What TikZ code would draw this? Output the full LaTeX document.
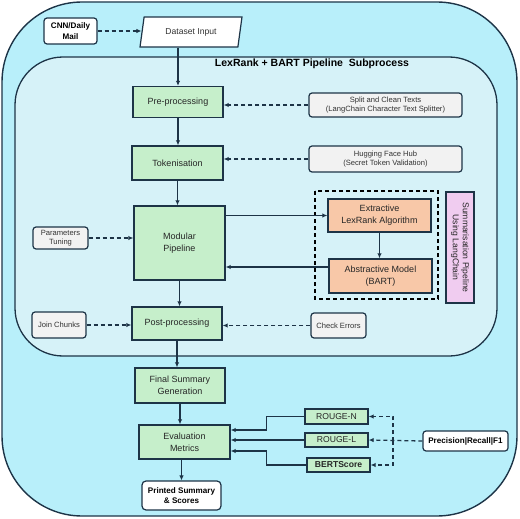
\documentclass[tikz,border=0pt]{standalone}
\usepackage{fontspec}
\setmainfont{Liberation Sans}
\usetikzlibrary{shapes.geometric,arrows.meta}
\definecolor{outerbg}{HTML}{B8EFFA}
\definecolor{innerbg}{HTML}{D6F2F8}
\definecolor{edgecol}{HTML}{1D3447}
\definecolor{stagegreen}{HTML}{C6EFCB}
\definecolor{peach}{HTML}{F8C8A8}
\definecolor{lilac}{HTML}{F0CCF0}
\definecolor{greybox}{HTML}{F2F2F2}
\begin{document}
\begin{tikzpicture}%
	[x=1pt, y=-1pt,
	stage/.style={draw=edgecol, line width=1.4pt, fill=stagegreen, inner sep=1pt, align=center, text=black!85, font=\fontsize{9}{12}\selectfont},
	model/.style={stage, fill=peach},
	metric/.style={stage, font=\fontsize{8.6}{9}\selectfont},
	note/.style={draw=edgecol, line width=1.2pt, fill=greybox, rounded corners=3pt, inner sep=1pt, align=center, text=black!80, font=\fontsize{7.6}{9.5}\selectfont},
	endbox/.style={note, fill=white, text=black, font=\bfseries\fontsize{8.1}{10.5}\selectfont},
	arr/.style={draw=edgecol, line width=1.3pt, -{Latex[length=5pt,width=4.5pt]}},
	dasharr/.style={arr, dash pattern=on 4pt off 3pt}]
\useasboundingbox (0,0) rectangle (520,519);
%%
%% Drawing the containers
%%
\draw[draw=edgecol, line width=1.4pt, fill=outerbg, rounded corners=80pt] (2,2) rectangle (517,516);
\draw[draw=edgecol, line width=1.3pt, fill=innerbg, rounded corners=48pt] (15,57) rectangle (497,356);
\node[font=\bfseries\fontsize{10.5}{13}\selectfont] (title) at (312,63.5) {LexRank + BART Pipeline\ \ Subprocess};
\draw[draw=black, line width=1.1pt, dash pattern=on 4pt off 3pt] (315,191) rectangle (438,299);
%%
%% Drawing the nodes
%%
\node[endbox, minimum width=53pt, minimum height=26pt] (cnn) at (70.5,31) {CNN/Daily\\Mail};
\node[draw=edgecol, line width=1.2pt, fill=white, trapezium, trapezium left angle=80, trapezium right angle=100, trapezium stretches=true, minimum width=102pt, minimum height=30pt, font=\fontsize{8.6}{10}\selectfont, text=black!80] (dataset) at (191,32) {Dataset Input};
\node[stage, minimum width=90pt, minimum height=31pt] (prep) at (178,102) {Pre-processing};
\node[note, minimum width=153pt, minimum height=24pt] (split) at (385.5,105) {Split and Clean Texts\\(LangChain Character Text Splitter)};
\node[stage, minimum width=91pt, minimum height=34pt] (token) at (177.5,163) {Tokenisation};
\node[note, minimum width=153pt, minimum height=26pt] (hub) at (385.5,159) {Hugging Face Hub\\(Secret Token Validation)};
\node[stage, minimum width=91pt, minimum height=74pt] (modular) at (179.5,243) {Modular\\Pipeline};
\node[note, minimum width=55pt, minimum height=22pt] (params) at (60.5,238) {Parameters\\Tuning};
\node[model, minimum width=103pt, minimum height=33pt] (extract) at (379.5,215.5) {Extractive\\LexRank Algorithm};
\node[model, minimum width=103pt, minimum height=34pt] (abstract) at (380.5,276) {Abstractive Model\\(BART)};
\node[stage, fill=lilac, rotate=-90, minimum width=111pt, minimum height=28pt, font=\fontsize{8.6}{10}\selectfont] (summ) at (460,247.5) {Summarisation Pipeline\\Using LangChain};
\node[stage, minimum width=90pt, minimum height=33pt] (post) at (177,323.5) {Post-processing};
\node[note, minimum width=54pt, minimum height=26pt] (join) at (59,325) {Join Chunks};
\node[note, minimum width=55pt, minimum height=25pt] (check) at (338.5,325.5) {Check Errors};
\node[stage, minimum width=90pt, minimum height=35pt] (final) at (180,385.5) {Final Summary\\Generation};
\node[stage, minimum width=91pt, minimum height=34pt] (eval) at (184.5,442) {Evaluation\\Metrics};
\node[endbox, minimum width=79pt, minimum height=29pt, rounded corners=4pt] (printed) at (181.5,495.5) {Printed Summary\\\& Scores};
\node[metric, minimum width=63pt, minimum height=15pt] (rougen) at (336.5,416.5) {ROUGE-N};
\node[metric, minimum width=63pt, minimum height=14pt] (rougel) at (336.5,440) {ROUGE-L};
\node[metric, minimum width=63pt, minimum height=14pt] (bert) at (338.5,465) {\textbf{BERTScore}};
\node[endbox, minimum width=85pt, minimum height=20pt] (prf) at (465.5,441) {Precision|Recall|F1};
\coordinate (fork) at (393,441);
%%
%% Drawing the connectors
%%
\draw[dasharr] (cnn.east) -- (cnn.east -| dataset.west);
\draw[arr] (dataset.south -| prep.north) -- (prep.north);
\draw[dasharr] (split.west) -- (split.west -| prep.east);
\draw[arr] (prep.south) -- (prep.south |- token.north);
\draw[dasharr] (hub.west) -- (hub.west -| token.east);
\draw[arr] (token.south) -- (token.south |- modular.north);
\draw[dasharr] (params.east) -- (params.east -| modular.west);
\draw[arr] (modular.east |- extract.west) -- (extract.west);
\draw[arr] (extract.south) -- (extract.south |- abstract.north);
\draw[arr] ([yshift=9pt]abstract.west) -- ([yshift=9pt]abstract.west -| modular.east);
\draw[arr] (modular.south) -- (modular.south |- post.north);
\draw[dasharr] (join.east) -- (join.east -| post.west);
\draw[dasharr] (check.west) -- (check.west -| post.east);
\draw[arr] (post.south) -- (post.south |- final.north);
\draw[arr] (final.south) -- (final.south |- eval.north);
\draw[arr] (eval.south -| printed.north) -- (printed.north);
\draw[arr] (rougen.west) -- ++(-38,0) |- ([yshift=12pt]eval.east);
\draw[arr] (rougel.west) -- (rougel.west -| eval.east);
\draw[arr] (bert.west) -- ++(-40,0) |- ([yshift=-9pt]eval.east);
\draw[dasharr] (prf.west) -- (rougel.east);
\draw[dasharr] (fork) |- (rougen.east);
\draw[dasharr] (fork) |- (bert.east);
%%
\end{tikzpicture}
\end{document}
